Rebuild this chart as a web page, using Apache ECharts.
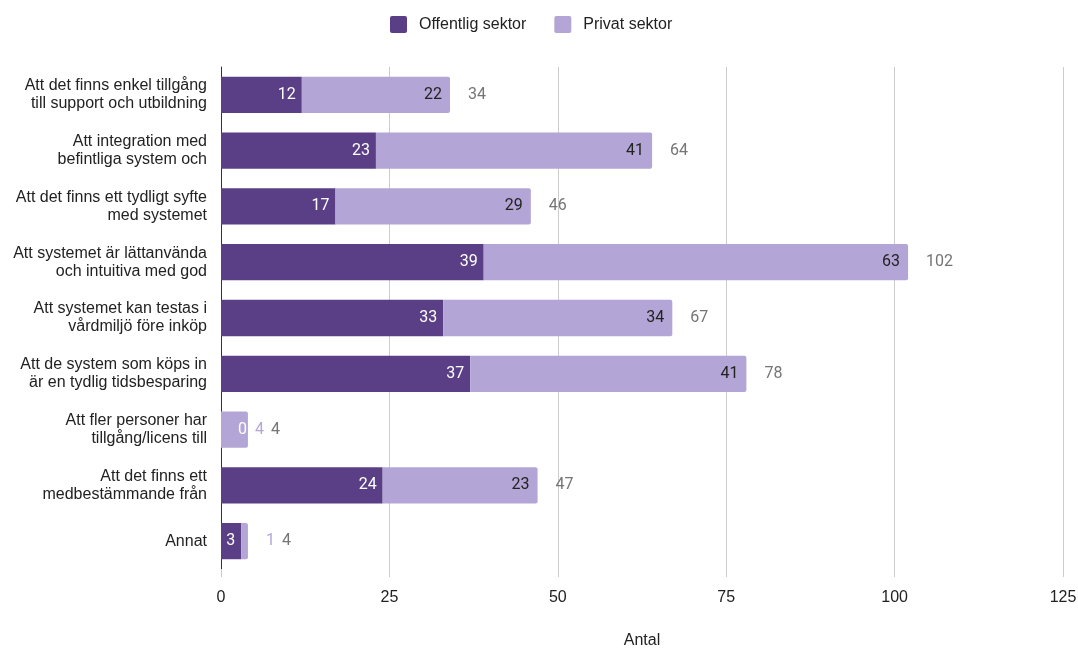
<!DOCTYPE html>
<html>
<head>
<meta charset="utf-8">
<script src="https://cdn.jsdelivr.net/npm/echarts@6/dist/echarts.min.js"></script>
<style>
  html, body { margin: 0; padding: 0; background: #fff; }
  #chart { width: 1078px; height: 648px; }
</style>
</head>
<body>
<div id="chart"></div>
<script>
const categories = [
  'Att det finns enkel tillgång\ntill support och utbildning',
  'Att integration med\nbefintliga system och',
  'Att det finns ett tydligt syfte\nmed systemet',
  'Att systemet är lättanvända\noch intuitiva med god',
  'Att systemet kan testas i\nvårdmiljö före inköp',
  'Att de system som köps in\när en tydlig tidsbesparing',
  'Att fler personer har\ntillgång/licens till',
  'Att det finns ett\nmedbestämmande från',
  'Annat'
];
const offentlig = [12, 23, 17, 39, 33, 37, 0, 24, 3];
const privat = [22, 41, 29, 63, 34, 41, 4, 23, 1];
const xTicks = { min: 0, max: 125, interval: 25 };

const DARK = '#5b3f86';
const LIGHT = '#b3a6d6';
const LABEL_FONT = 'Roboto';
const AXIS_FONT = 'Liberation Sans';

const totals = offentlig.map((v, i) => v + privat[i]);

// Segments too narrow for an inside label get it placed after the bar.
const narrow = v => v < 5;

const offData = offentlig.map(v => {
  if (v === 0) {
    return { value: v, label: { position: 'right', distance: 17 } };
  }
  return v;
});

const privData = privat.map(v => {
  if (narrow(v)) {
    return { value: v, label: { position: 'right', distance: v === 1 ? 18 : 7, color: LIGHT } };
  }
  return v;
});

const totalData = totals.map((t, i) => {
  let dist = 18;
  if (narrow(privat[i])) dist = privat[i] === 1 ? 34 : 23;
  return { value: 0, total: t, label: { distance: dist } };
});

const chart = echarts.init(document.getElementById('chart'));
chart.setOption({
  animation: false,
  legend: {
    top: 16,
    left: 390,
    padding: 0,
    itemWidth: 17,
    itemHeight: 17,
    itemGap: 28,
    icon: 'path://M2,0 L15,0 Q17,0 17,2 L17,15 Q17,17 15,17 L2,17 Q0,17 0,15 L0,2 Q0,0 2,0 Z',
    textStyle: { fontFamily: AXIS_FONT, fontSize: 16, color: '#222', padding: [0, 0, 0, 7] },
    data: ['Offentlig sektor', 'Privat sektor']
  },
  grid: { left: 221, right: 15, top: 67, bottom: 79, containLabel: false, outerBoundsMode: 'none' },
  xAxis: {
    type: 'value',
    min: xTicks.min,
    max: xTicks.max,
    interval: xTicks.interval,
    name: 'Antal',
    nameLocation: 'middle',
    nameGap: 64,
    nameTextStyle: { fontFamily: AXIS_FONT, fontSize: 16, color: '#222' },
    axisLine: { show: false },
    axisTick: { show: true, length: 8, lineStyle: { color: '#cccccc' } },
    axisLabel: { margin: 21, fontFamily: AXIS_FONT, fontSize: 16, color: '#222' },
    splitLine: { show: true, lineStyle: { color: '#cccccc', width: 1 } }
  },
  yAxis: {
    type: 'category',
    inverse: true,
    data: categories,
    axisLine: { show: true, lineStyle: { color: '#333', width: 1 } },
    axisTick: { show: false },
    axisLabel: {
      margin: 14,
      fontFamily: AXIS_FONT,
      fontSize: 16,
      lineHeight: 18,
      padding: [3, 0, 0, 0],
      color: '#222',
      align: 'right'
    }
  },
  series: [
    {
      name: 'Offentlig sektor',
      type: 'bar',
      stack: 'tot',
      barWidth: '65%',
      itemStyle: { color: DARK },
      label: {
        show: true,
        position: 'insideRight',
        distance: 6,
        color: '#fff',
        fontFamily: LABEL_FONT,
        fontSize: 16
      },
      data: offData
    },
    {
      name: 'Privat sektor',
      type: 'bar',
      stack: 'tot',
      barWidth: '65%',
      itemStyle: { color: LIGHT, borderRadius: [0, 2, 2, 0] },
      label: {
        show: true,
        position: 'insideRight',
        distance: 8,
        color: '#222',
        fontFamily: LABEL_FONT,
        fontSize: 16
      },
      data: privData
    },
    {
      name: 'Totalt',
      type: 'bar',
      stack: 'tot',
      barWidth: '65%',
      itemStyle: { color: 'transparent' },
      label: {
        show: true,
        position: 'right',
        color: '#757575',
        fontFamily: LABEL_FONT,
        fontSize: 16,
        formatter: p => String(p.data.total)
      },
      tooltip: { show: false },
      data: totalData
    }
  ]
});
</script>
</body>
</html>
